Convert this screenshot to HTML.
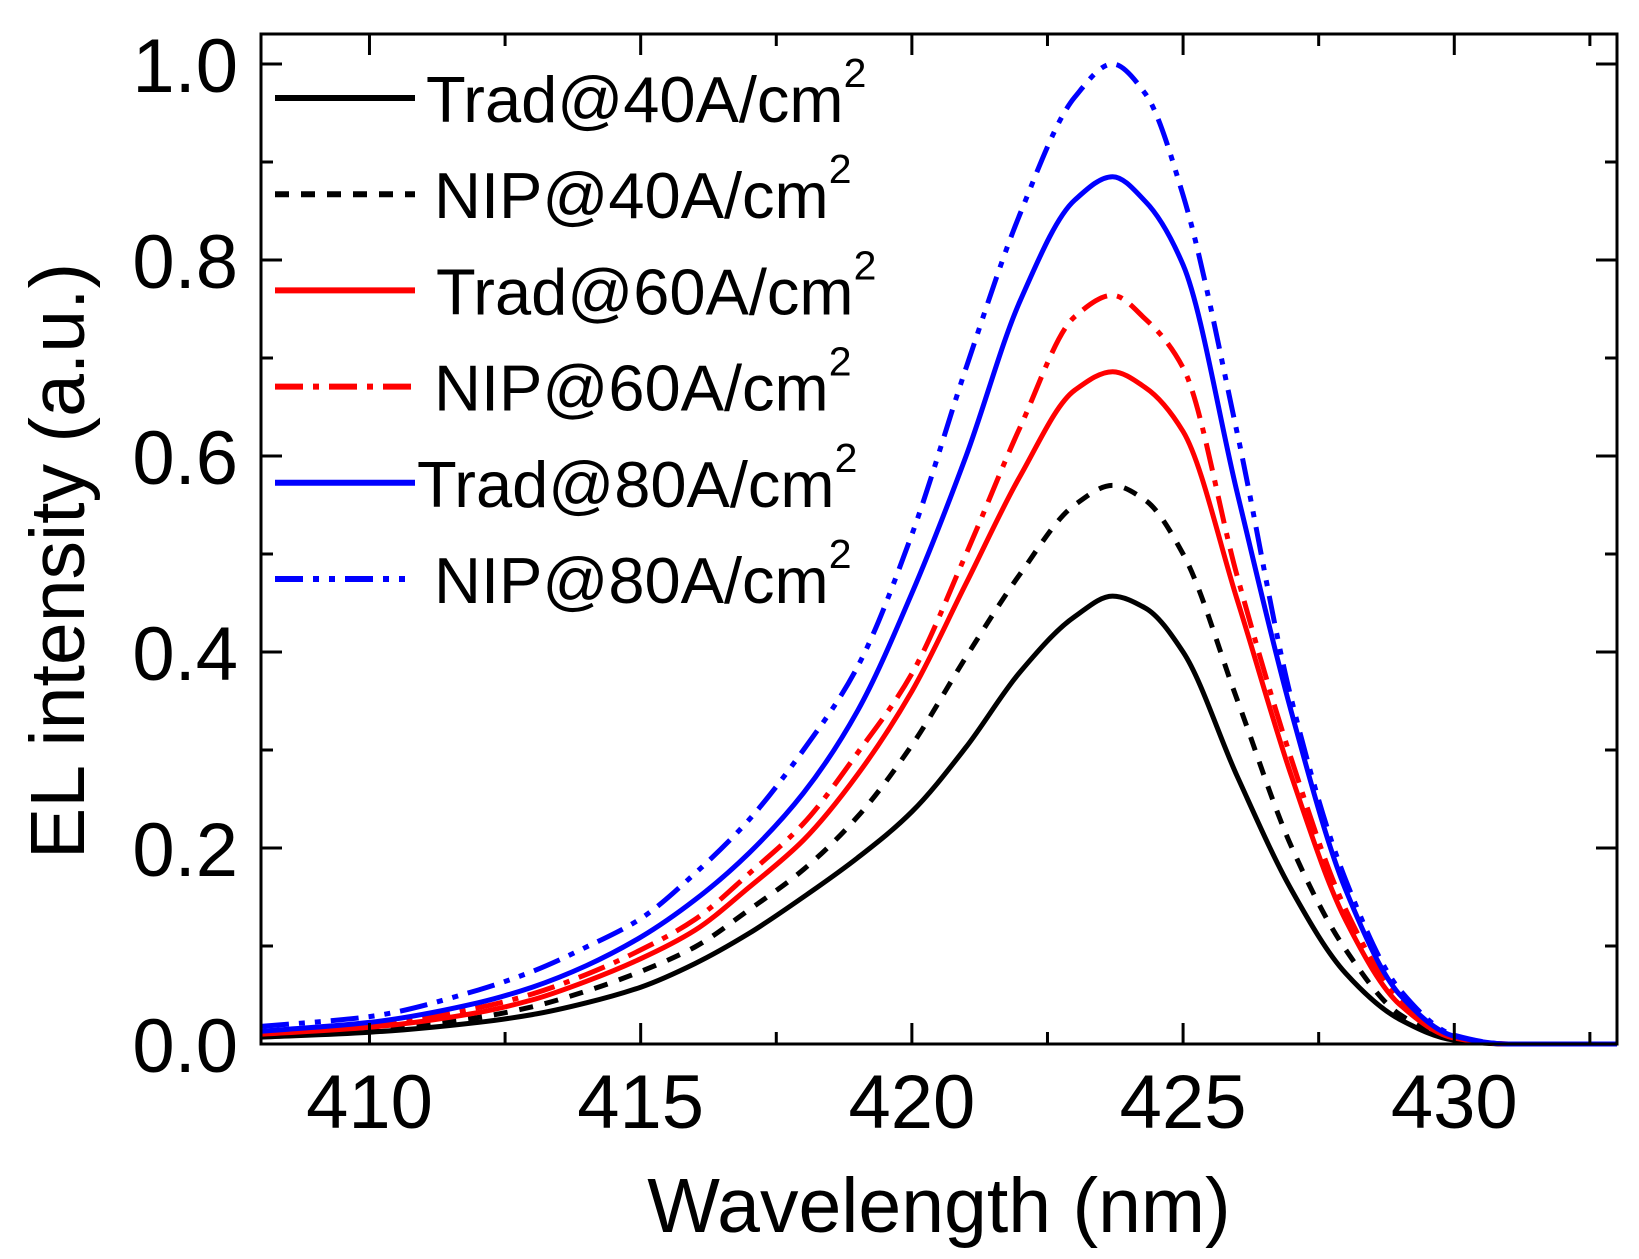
<!DOCTYPE html>
<html><head><meta charset="utf-8">
<style>
html,body{margin:0;padding:0;background:#fff;}
svg{display:block;font-family:"Liberation Sans",Arial,sans-serif;}
</style></head>
<body>
<svg id="chart" width="1639" height="1259" viewBox="0 0 1639 1259" xmlns="http://www.w3.org/2000/svg">
<g id="curves"></g>
<g id="axes"></g>
<g id="legend"></g>
<text x="939" y="1232" font-size="77" text-anchor="middle">Wavelength (nm)</text>
<text transform="translate(84,561) rotate(-90)" font-size="77" text-anchor="middle">EL intensity (a.u.)</text>
</svg>
<script>
const wavelengths = [408,410,412,413,414,415,416,417,418,419,420,421,422,423,423.7,424.3,425,426,427,428,429,430,431,433];
const trad40 = [0.007,0.012,0.022,0.03,0.042,0.058,0.082,0.113,0.15,0.19,0.237,0.303,0.38,0.436,0.457,0.445,0.4,0.273,0.157,0.072,0.025,0.004,0,0];
const nip40  = [0.008,0.014,0.027,0.038,0.054,0.074,0.099,0.137,0.178,0.232,0.305,0.395,0.48,0.55,0.57,0.555,0.5,0.351,0.201,0.096,0.03,0.005,0,0];
const trad60 = [0.01,0.017,0.032,0.045,0.064,0.087,0.116,0.16,0.208,0.275,0.36,0.47,0.58,0.667,0.686,0.67,0.625,0.453,0.273,0.126,0.04,0.006,0,0];
const nip60  = [0.012,0.02,0.037,0.051,0.071,0.096,0.127,0.174,0.225,0.297,0.378,0.5,0.63,0.742,0.764,0.74,0.69,0.477,0.29,0.137,0.045,0.007,0,0];
const trad80 = [0.013,0.022,0.042,0.058,0.08,0.109,0.147,0.195,0.256,0.34,0.46,0.6,0.759,0.861,0.885,0.86,0.795,0.562,0.338,0.157,0.05,0.008,0,0];
const nip80  = [0.018,0.028,0.055,0.074,0.099,0.128,0.174,0.229,0.30,0.385,0.52,0.69,0.848,0.966,1.0,0.97,0.866,0.623,0.351,0.167,0.055,0.009,0,0];
const xTicks = [410,415,420,425,430];
const xTickLabels = ["410","415","420","425","430"];
const yTicks = [0,0.2,0.4,0.6,0.8,1.0];
const yTickLabels = ["0.0","0.2","0.4","0.6","0.8","1.0"];
const legendLabels = ["Trad@40A/cm","NIP@40A/cm","Trad@60A/cm","NIP@60A/cm","Trad@80A/cm","NIP@80A/cm"];

const NS="http://www.w3.org/2000/svg";
const L=261,R=1617,T=34,B=1044;
const xMin=408,xMax=433;
const X=v=>L+(v-xMin)/(xMax-xMin)*(R-L);
const Y=v=>B-v*980;
function mk(tag,attrs,parent){const e=document.createElementNS(NS,tag);for(const k in attrs)e.setAttribute(k,attrs[k]);parent.appendChild(e);return e;}
const series=[
 {d:trad40,c:"#000",dash:"",name:"trad-40"},
 {d:nip40,c:"#000",dash:"14 12",name:"nip-40"},
 {d:trad60,c:"#ff0000",dash:"",name:"trad-60"},
 {d:nip60,c:"#ff0000",dash:"28 10 6 10",name:"nip-60"},
 {d:trad80,c:"#0000ff",dash:"",name:"trad-80"},
 {d:nip80,c:"#0000ff",dash:"28 10 6 10 6 10",name:"nip-80"}
];
function pathFor(vals){
 const p=wavelengths.map((w,i)=>[X(w),Y(vals[i])]);
 const n=p.length, d=[], m=[];
 for(let i=0;i<n-1;i++) d.push((p[i+1][1]-p[i][1])/(p[i+1][0]-p[i][0]));
 m[0]=d[0]; m[n-1]=d[n-2];
 for(let i=1;i<n-1;i++){
  if(d[i-1]*d[i]<=0) m[i]=0;
  else { const h0=p[i][0]-p[i-1][0], h1=p[i+1][0]-p[i][0];
    const w1=2*h1+h0, w2=h1+2*h0; m[i]=(w1+w2)/(w1/d[i-1]+w2/d[i]); }
 }
 let s="M"+p[0][0].toFixed(1)+","+p[0][1].toFixed(1);
 for(let i=0;i<n-1;i++){
  const h=p[i+1][0]-p[i][0];
  s+=" C"+(p[i][0]+h/3).toFixed(1)+","+(p[i][1]+m[i]*h/3).toFixed(1)+" "+(p[i+1][0]-h/3).toFixed(1)+","+(p[i+1][1]-m[i+1]*h/3).toFixed(1)+" "+p[i+1][0].toFixed(1)+","+p[i+1][1].toFixed(1);
 }
 return s;
}
const cg=document.getElementById('curves');
series.forEach(s=>{
 const e=mk('path',{d:pathFor(s.d),fill:"none",stroke:s.c,"stroke-width":5,"stroke-dasharray":s.dash},cg);
 
 
});
const ag=document.getElementById('axes');
const frame=mk('rect',{x:L,y:T,width:R-L,height:B-T,fill:"none",stroke:"#000","stroke-width":3},ag);


for(let v=407.5;v<=433;v+=2.5){
 if(v<xMin||v>xMax) continue;
 const major=Math.abs(v%5)<1e-6, len=major?21:12, x=X(v);
 mk('line',{x1:x,x2:x,y1:B,y2:B-len,stroke:"#000","stroke-width":3},ag);
 mk('line',{x1:x,x2:x,y1:T,y2:T+len,stroke:"#000","stroke-width":3},ag);
}
for(let k=0;k<=10;k++){
 const v=k/10, major=k%2===0, len=major?21:12, y=Y(v);
 mk('line',{x1:L,x2:L+len,y1:y,y2:y,stroke:"#000","stroke-width":3},ag);
 mk('line',{x1:R,x2:R-len,y1:y,y2:y,stroke:"#000","stroke-width":3},ag);
}
xTicks.forEach((v,i)=>{
 const t=mk('text',{x:X(v),y:1128,"font-size":76,"text-anchor":"middle"},ag);
 t.textContent=xTickLabels[i];
 
 
});
yTicks.forEach((v,i)=>{
 const t=mk('text',{x:238,y:Y(v)+28,"font-size":76,"text-anchor":"end"},ag);
 t.textContent=yTickLabels[i];
 
 
});
const lg=document.getElementById('legend');
const textX=[426,434,436,434,417,434];
series.forEach((s,i)=>{
 const y=98+i*96.2;
 const g=mk('g',{},lg);
 
 
 mk('line',{x1:275,x2:415,y1:y,y2:y,stroke:s.c,"stroke-width":6,"stroke-dasharray":s.dash},g);
 const t=mk('text',{x:textX[i],y:y+24,"font-size":65},g);
 t.textContent=legendLabels[i];
 const sup=mk('tspan',{"font-size":41,dy:-35},t);
 sup.textContent="2";
});
</script>
</body></html>
